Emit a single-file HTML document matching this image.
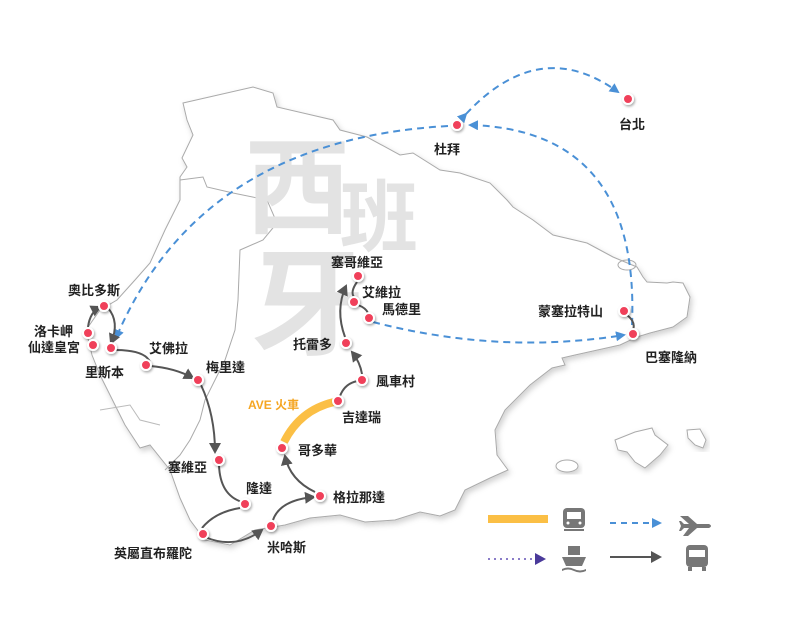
<!DOCTYPE html>
<html><head><meta charset="utf-8"><style>
body{margin:0;background:#fff;}
svg{display:block;font-family:"Liberation Sans","Noto Sans CJK TC",sans-serif;}
.l{font-size:13px;font-weight:bold;fill:#222;}
</style></head><body>
<svg width="800" height="640" viewBox="0 0 800 640" xmlns="http://www.w3.org/2000/svg">
<defs>
<filter id="sh" x="-10%" y="-10%" width="130%" height="130%"><feDropShadow dx="2" dy="3" stdDeviation="3" flood-color="#000" flood-opacity="0.18"/></filter>
<filter id="ds" x="-50%" y="-50%" width="200%" height="200%"><feDropShadow dx="1" dy="1.5" stdDeviation="1.2" flood-color="#000" flood-opacity="0.35"/></filter>
<marker id="ab" markerWidth="10" markerHeight="10" refX="8" refY="5" orient="auto" markerUnits="userSpaceOnUse"><path d="M0,0 L10,5 L0,10 Z" fill="#4a90d6"/></marker>
<marker id="ag" markerWidth="12" markerHeight="12" refX="9" refY="6" orient="auto" markerUnits="userSpaceOnUse"><path d="M0,0 L11,6 L0,12 Z" fill="#555"/></marker>
</defs>
<!-- peninsula -->
<path filter="url(#sh)" fill="#fff" stroke="#aaa" stroke-width="1" d="M183,103 L253,87 L273,93 L277,107 L333,120 L340,130 L367,137 L400,155 L413,153 L440,170 L460,173 L490,183 L507,200 L513,207 L533,220 L553,235 L587,243 L600,250 L613,257 L637,267 L643,277 L647,282 L667,283 L673,282 L683,283 L690,297 L687,317 L673,327 L650,333 L637,337 L620,345 L575,355 L562,358 L565,365 L552,368 L530,385 L505,410 L495,430 L497,455 L508,470 L490,478 L465,490 L455,510 L440,516 L420,512 L395,520 L365,522 L340,515 L310,518 L285,525 L255,530 L230,545 L205,540 L190,520 L180,498 L170,470 L150,445 L140,448 L125,425 L110,395 L100,375 L92,355 L86,330 L100,310 L117,300 L135,280 L150,263 L165,230 L180,200 L180,177 L187,167 L182,158 L193,135 L187,120 Z"/>
<ellipse cx="627" cy="265" rx="9" ry="5" fill="none" stroke="#aaa"/>
<path fill="none" stroke="#aaa" stroke-width="1" d="M180,180 L203,177 L207,187 L233,193 L267,200 L277,223 L263,240 L240,250 L238,300 L235,330 L225,360 L215,380 L205,400 L200,420 L190,440 L180,455 L165,470"/>
<path fill="none" stroke="#bbb" stroke-width="1" d="M100,410 L130,405 L140,420 L160,425"/>
<!-- islands -->
<path filter="url(#sh)" fill="#fff" stroke="#aaa" d="M615,440 L635,432 L652,428 L655,435 L668,445 L660,455 L645,468 L635,462 L627,452 L618,450 Z"/>
<path filter="url(#sh)" fill="#fff" stroke="#aaa" d="M687,430 L700,429 L706,440 L703,448 L695,445 L688,438 Z"/>
<ellipse filter="url(#sh)" cx="567" cy="466" rx="11" ry="6" fill="#fff" stroke="#aaa"/>
<!-- big chars -->
<text x="245" y="225" font-size="105" font-weight="bold" fill="#e3e3e3">西</text>
<text x="340" y="245" font-size="78" font-weight="bold" fill="#e3e3e3">班</text>
<text x="250" y="345" font-size="115" font-weight="bold" fill="#e3e3e3">牙</text>
<!-- blue dashed -->
<g fill="none" stroke="#4a90d6" stroke-width="2" stroke-dasharray="7,5">
<path d="M466,114 Q540,35 618,92" marker-start="url(#ab)" marker-end="url(#ab)"/>
<path d="M632,325 Q640,130 470,125" marker-end="url(#ab)"/>
<path d="M448,126 Q200,140 116,338" marker-end="url(#ab)"/>
<path d="M373,322 Q500,355 624,335" marker-end="url(#ab)"/>
</g>
<!-- AVE -->
<path d="M284,442 Q300,410 334,402" fill="none" stroke="#fbbf45" stroke-width="8"/>
<!-- gray routes -->
<g fill="none" stroke="#555" stroke-width="2">
<path d="M88,327 Q90,312 100,307" marker-end="url(#ag)"/>
<path d="M108,308 Q120,322 111,343" marker-end="url(#ag)"/>
<path d="M115,350 Q145,350 150,362"/>
<path d="M150,366 Q175,368 193,378" marker-end="url(#ag)"/>
<path d="M201,385 Q215,415 215,452" marker-end="url(#ag)"/>
<path d="M219,465 Q220,495 242,502"/>
<path d="M240,508 Q215,512 202,528"/>
<path d="M205,537 Q235,550 262,530" marker-end="url(#ag)"/>
<path d="M273,520 Q280,500 314,497" marker-end="url(#ag)"/>
<path d="M315,492 Q290,480 285,456" marker-end="url(#ag)"/>
<path d="M340,396 Q345,383 358,381"/>
<path d="M362,374 Q360,362 352,352" marker-end="url(#ag)"/>
<path d="M345,337 Q335,310 346,286" marker-end="url(#ag)"/>
<path d="M357,282 Q350,292 354,297"/>
<path d="M358,305 Q366,308 368,313"/>
<path d="M627,315 Q636,322 633,330"/>
</g>
<!-- dots -->
<g fill="#f0405a" stroke="#fff" stroke-width="2" filter="url(#ds)">
<circle cx="628" cy="99" r="5"/><circle cx="457" cy="125" r="5"/><circle cx="633" cy="334" r="5"/><circle cx="624" cy="311" r="5"/>
<circle cx="104" cy="306" r="5"/><circle cx="88" cy="333" r="5"/><circle cx="93" cy="345" r="5"/><circle cx="111" cy="348" r="5"/>
<circle cx="146" cy="365" r="5"/><circle cx="198" cy="380" r="5"/><circle cx="219" cy="460" r="5"/><circle cx="245" cy="504" r="5"/>
<circle cx="203" cy="534" r="5"/><circle cx="271" cy="526" r="5"/><circle cx="320" cy="496" r="5"/><circle cx="282" cy="448" r="5"/>
<circle cx="338" cy="401" r="5"/><circle cx="362" cy="380" r="5"/><circle cx="346" cy="343" r="5"/><circle cx="354" cy="302" r="5"/>
<circle cx="369" cy="318" r="5"/><circle cx="358" cy="276" r="5"/>
</g>
<!-- labels -->
<g class="l">
<text class="l" x="619" y="129">台北</text>
<text class="l" x="434" y="154">杜拜</text>
<text class="l" x="645" y="362">巴塞隆納</text>
<text class="l" x="538" y="316">蒙塞拉特山</text>
<text class="l" x="68" y="295">奧比多斯</text>
<text class="l" x="34" y="336">洛卡岬</text>
<text class="l" x="28" y="352">仙達皇宮</text>
<text class="l" x="85" y="377">里斯本</text>
<text class="l" x="149" y="353">艾佛拉</text>
<text class="l" x="206" y="372">梅里達</text>
<text class="l" x="168" y="472">塞維亞</text>
<text class="l" x="246" y="493">隆達</text>
<text class="l" x="114" y="558">英屬直布羅陀</text>
<text class="l" x="267" y="552">米哈斯</text>
<text class="l" x="333" y="502">格拉那達</text>
<text class="l" x="298" y="455">哥多華</text>
<text class="l" x="342" y="422">吉達瑞</text>
<text class="l" x="376" y="386">風車村</text>
<text class="l" x="293" y="349">托雷多</text>
<text class="l" x="362" y="297">艾維拉</text>
<text class="l" x="382" y="314">馬德里</text>
<text class="l" x="331" y="267">塞哥維亞</text>
<text x="248" y="409" font-size="12" font-weight="bold" fill="#f5a623">AVE 火車</text>
</g>
<!-- legend -->
<rect x="488" y="515" width="60" height="8" fill="#fbbf45"/>
<g fill="#777">
<rect x="563" y="508" width="22" height="20" rx="4"/>
<rect x="567" y="512" width="14" height="7" fill="#fff"/>
<circle cx="568" cy="523" r="1.5" fill="#fff"/><circle cx="580" cy="523" r="1.5" fill="#fff"/>
<rect x="564" y="529" width="20" height="2"/>
<path d="M680,516 L688,516 L697,524 L709,524 Q713,526 709,528 L697,528 L688,536 L683,536 L689,528 L684,528 L681,531 L679,531 L681,526 L679,521 L681,521 L684,524 L689,524 Z"/>
<rect x="568" y="546" width="12" height="9"/>
<path d="M562,557 L586,557 L582,566 L566,566 Z"/>
<path d="M562,569 Q568,566 574,569 Q580,572 586,569 L586,571 Q580,574 574,571 Q568,568 562,571 Z"/>
<rect x="686" y="545" width="22" height="22" rx="4"/>
<rect x="689" y="550" width="16" height="7" fill="#fff"/>
<rect x="688" y="567" width="4" height="4"/><rect x="702" y="567" width="4" height="4"/>
</g>
<path d="M610,523 L660,523" stroke="#4a90d6" stroke-width="2" stroke-dasharray="6,5" marker-end="url(#ab)"/>
<path d="M488,559 L535,559" stroke="#8a7cc8" stroke-width="2" stroke-dasharray="2,4"/>
<path d="M535,553 L546,559 L535,565 Z" fill="#4a3a9a"/>
<path d="M610,557 L660,557" stroke="#555" stroke-width="2" marker-end="url(#ag)"/>
</svg>
</body></html>
